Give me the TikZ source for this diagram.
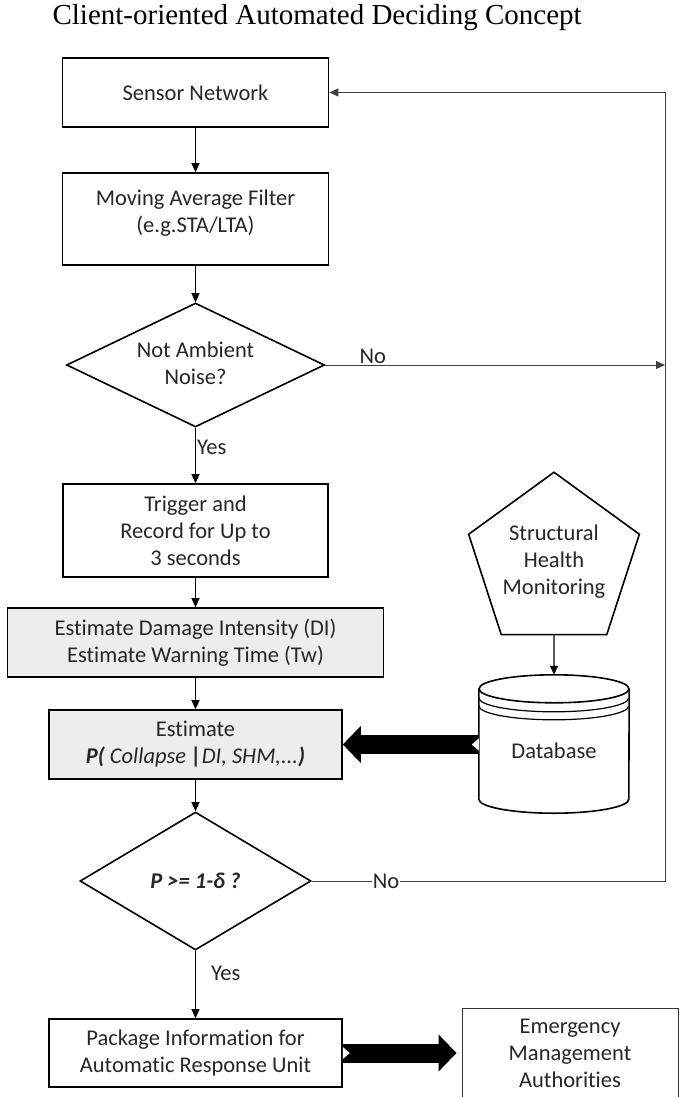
\documentclass[tikz,border=0pt]{standalone}
\usepackage{fontspec}
\setmainfont[Ligatures=NoCommon]{Carlito}
\newfontfamily\titlefont{Liberation Serif}
\usetikzlibrary{shapes.geometric,arrows.meta,calc}

\newcommand\bodysize{\fontsize{22.5}{27}\selectfont}

\tikzset{
  block/.style={draw, line width=1.6pt, align=center, inner sep=0pt, text=black!85, font=\bodysize},
  shaded/.style={block, fill=black!7},
  decision/.style={block, diamond},
  flow/.style={line width=1.2pt, -{Triangle[length=9pt,width=8pt]}},
  rail/.style={line width=1pt, draw=black!75},
  bigflow/.style={line width=19pt, -{Triangle[length=18pt,width=36pt]}},
  lbl/.style={inner sep=1pt, text=black!85, font=\bodysize},
}

\begin{document}
\begin{tikzpicture}[x=1pt,y=-1pt]
  \useasboundingbox (0,0) rectangle (680,1097);
  \clip (0,0) rectangle (680,1097);

  \node[anchor=west, font=\titlefont\fontsize{29}{33}\selectfont] (title) at (49,18) {Client-oriented Automated Deciding Concept};

  % main column
  \node[block, minimum width=266, minimum height=69] (sensor) at (195.5,92.5) {Sensor Network};
  \node[block, minimum width=266, minimum height=92] (filter) at (195.5,219) {Moving Average Filter\\(e.g.STA/LTA)\\[-11pt]~};
  \node[decision, shape aspect=2.08, minimum width=258, minimum height=124] (noise) at (195.5,365) {~\\[-15pt]Not Ambient\\Noise?};
  \node[block, minimum width=265, minimum height=93] (trigger) at (195.5,530.5) {Trigger and\\Record for Up to\\3 seconds};
  \node[shaded, minimum width=376, minimum height=69] (estdi) at (195.5,642.5) {Estimate Damage Intensity (DI)\\Estimate Warning Time (Tw)};
  \node[shaded, minimum width=293, minimum height=69] (collapse) at (195.5,744.5) {Estimate\\\textbf{\textit{P(}} \textit{Collapse} \textbf{\textit{|}}\textit{DI, SHM,...}\textbf{\textit{)}}};
  \node[decision, shape aspect=1.67, minimum width=231, minimum height=138] (decide) at (195.5,881) {\textbf{\textit{P >= 1-δ ?}}};
  \node[block, minimum width=293, minimum height=68] (package) at (195.5,1053) {Package Information for\\Automatic Response Unit};

  % right side
  \node[block, regular polygon, regular polygon sides=5, minimum size=166] (shm) at (554,562) {Structural\\Health\\Monitoring};
  \node[align=center, inner sep=0pt, minimum width=150, minimum height=124, text=black!85, font=\bodysize] (db) at (554,751) {Database};
  \node[block, line width=0.9pt, draw=black!80, minimum width=216, minimum height=90] (ema) at (570,1053) {Emergency\\Management\\Authorities};
  \coordinate (rail) at (665,0);

  % database drum
  \draw[line width=1.6pt] (db.north) ellipse[x radius=75pt, y radius=14pt];
  \draw[line width=1.6pt] (db.north west) -- ($(db.south west)+(0,-14)$)
    arc[start angle=180, end angle=360, x radius=75pt, y radius=14pt] -- (db.north east);
  \foreach \d in {9,17}
    \draw[line width=1.2pt] ($(db.north west)+(0,\d)$) arc[start angle=180, end angle=360, x radius=75pt, y radius=14pt];

  % arrows
  \draw[flow] (sensor) -- (filter);
  \draw[flow] (filter) -- (noise);
  \draw[flow] (noise) -- node[lbl, right, pos=0.35] {Yes} (trigger);
  \draw[flow] (trigger) -- (estdi);
  \draw[flow] (estdi) -- (collapse);
  \draw[flow] (collapse) -- (decide);
  \draw[flow] (decide) -- node[lbl, right=14pt, pos=0.33] {Yes} (package);
  \draw[flow] (shm) -- ($(db.north)+(0,-14)$);

  \draw[flow, rail] (noise.east) -- node[lbl, above, pos=0.14] {No} (noise.east -| rail);
  \draw[flow, rail] (decide.east) -- node[lbl, fill=white, pos=0.21] {No} (decide.east -| rail)
    -- (sensor.east -| rail) -- (sensor.east);

  \draw[bigflow] (db.west |- collapse) -- (collapse.east);
  \draw[bigflow, shorten >=5pt] (package.east) -- (ema.west);
  \fill[white] ($(db.west |- collapse)+(0,-6)$) -- ++(-7,6) -- ++(7,6) -- cycle;
  \fill[white] ($(package.east)+(0,-6)$) -- ++(7,6) -- ++(-7,6) -- cycle;
\end{tikzpicture}
\end{document}
